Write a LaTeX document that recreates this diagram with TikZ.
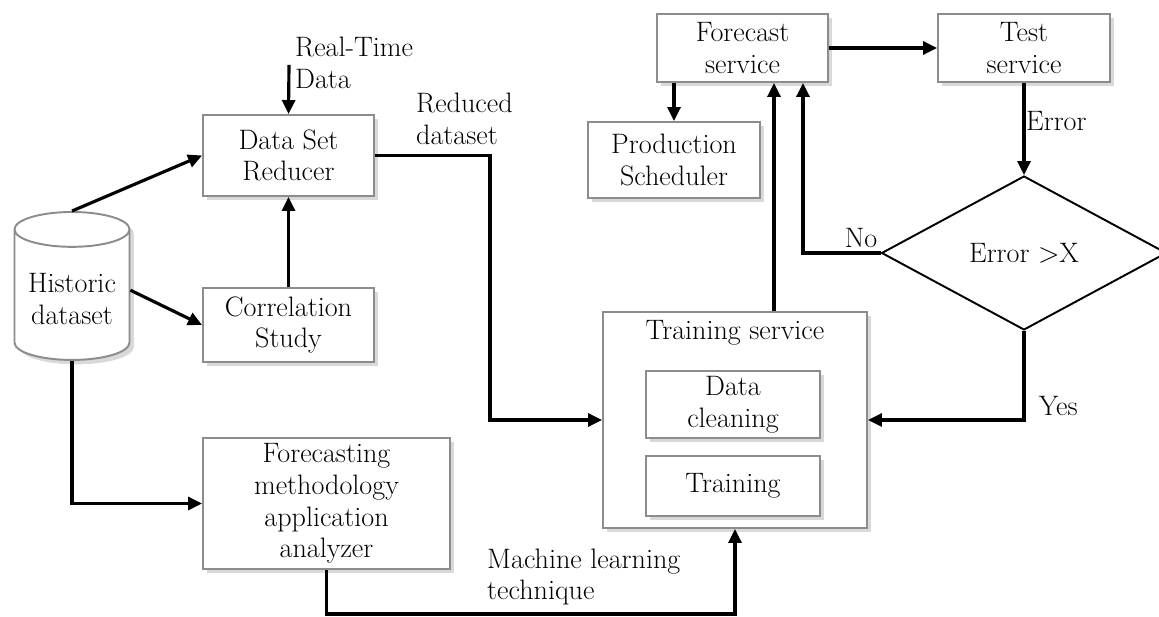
\documentclass[tikz,border=0pt]{standalone}
\usetikzlibrary{arrows.meta, positioning, shapes.geometric, shadows}
\tikzset{
  pbox/.style={draw=black!45, line width=1.1pt, fill=white, align=center, inner sep=2pt,
    drop shadow={shadow xshift=2.5pt, shadow yshift=-2.5pt, opacity=0.3}},
  dbcyl/.style={cylinder, shape border rotate=90, aspect=0.35, draw=black!45, line width=1.1pt,
    fill=white, align=center, minimum width=2.3cm, minimum height=2.96cm,
    drop shadow={shadow xshift=2.5pt, shadow yshift=-2.5pt, opacity=0.3}},
  errdia/.style={diamond, aspect=1.83, draw, line width=1.1pt, minimum width=5.7cm,
    minimum height=3.08cm, inner sep=0pt},
  flow/.style={-{Triangle[length=2.8mm, width=2.6mm]}, line width=1.8pt},
  lbl/.style={align=left, anchor=west},
}
\begin{document}
\begin{tikzpicture}[x=0.02cm, y=-0.02cm, font=\fontsize{16}{18}\selectfont]
  \useasboundingbox (0,0) rectangle (1159,617);
  % left column
  \node[dbcyl] (hist) at (72,299) {Historic\\dataset};
  \node[pbox, minimum width=3.42cm, minimum height=1.62cm] (reducer) at (288.5,155.5) {Data Set\\Reducer};
  \node[pbox, minimum width=3.42cm, minimum height=1.48cm] (corr) at (288.5,325) {Correlation\\Study};
  \node[pbox, minimum width=4.94cm, minimum height=2.62cm] (fma) at (326.5,503.5) {Forecasting\\methodology\\application\\analyzer};
  % training service
  \node[pbox, minimum width=5.28cm, minimum height=4.32cm] (train) at (735,420) {};
  \node (traintitle) at (735,333) {Training service};
  \node[pbox, minimum width=3.48cm, minimum height=1.34cm] (clean) at (733,404.5) {Data\\cleaning};
  \node[pbox, minimum width=3.48cm, minimum height=1.2cm] (trainstep) at (733,486) {Training};
  % top row
  \node[pbox, minimum width=3.42cm, minimum height=1.36cm] (fcst) at (742.5,48) {Forecast\\service};
  \node[pbox, minimum width=3.44cm, minimum height=1.52cm] (prod) at (674,160) {Production\\Scheduler};
  \node[pbox, minimum width=3.44cm, minimum height=1.36cm] (test) at (1024,48) {Test\\service};
  \node[errdia] (dec) at (1024,253) {Error >X};
  % free labels
  \coordinate (rtin) at (289,65);
  \node[lbl] (rtlbl) at (289,63) {Real-Time\\Data};
  \node[lbl] (redlbl) at (410,119) {Reduced\\dataset};
  \node[lbl] (mllbl) at (481,577) {Machine learning\\technique};

  \draw[flow] (rtin) -- (reducer.north);
  \draw[flow] (hist.top) -- (reducer.west);
  \draw[flow] ([yshift=5pt]hist.east) -- (corr.west);
  \draw[flow] (corr.north) -- (reducer.south);
  \draw[flow] (hist.bottom) |- (fma.west);
  \draw[flow] (reducer.east) -- ++(115,0) |- (train.west);
  \draw[flow] (fma.south) -- ++(0,44) -| (train.south);
  \draw[flow] ([xshift=0.78cm]train.north) -- ([xshift=0.78cm]train.north |- fcst.south);
  \draw[flow] (fcst.south -| prod.north) -- (prod.north);
  \draw[flow] (fcst.east) -- (test.west);
  \draw[flow] (test.south) -- node[right, xshift=-3pt, pos=0.41] {Error} (dec.north);
  \draw[flow] (dec.west) node[anchor=south east, inner sep=1pt, yshift=1pt] {No} -| ([xshift=1.21cm]fcst.south);
  \draw[flow] (dec.south) |- node[right=0.15cm, pos=0.42] {Yes} (train.east);
\end{tikzpicture}
\end{document}
